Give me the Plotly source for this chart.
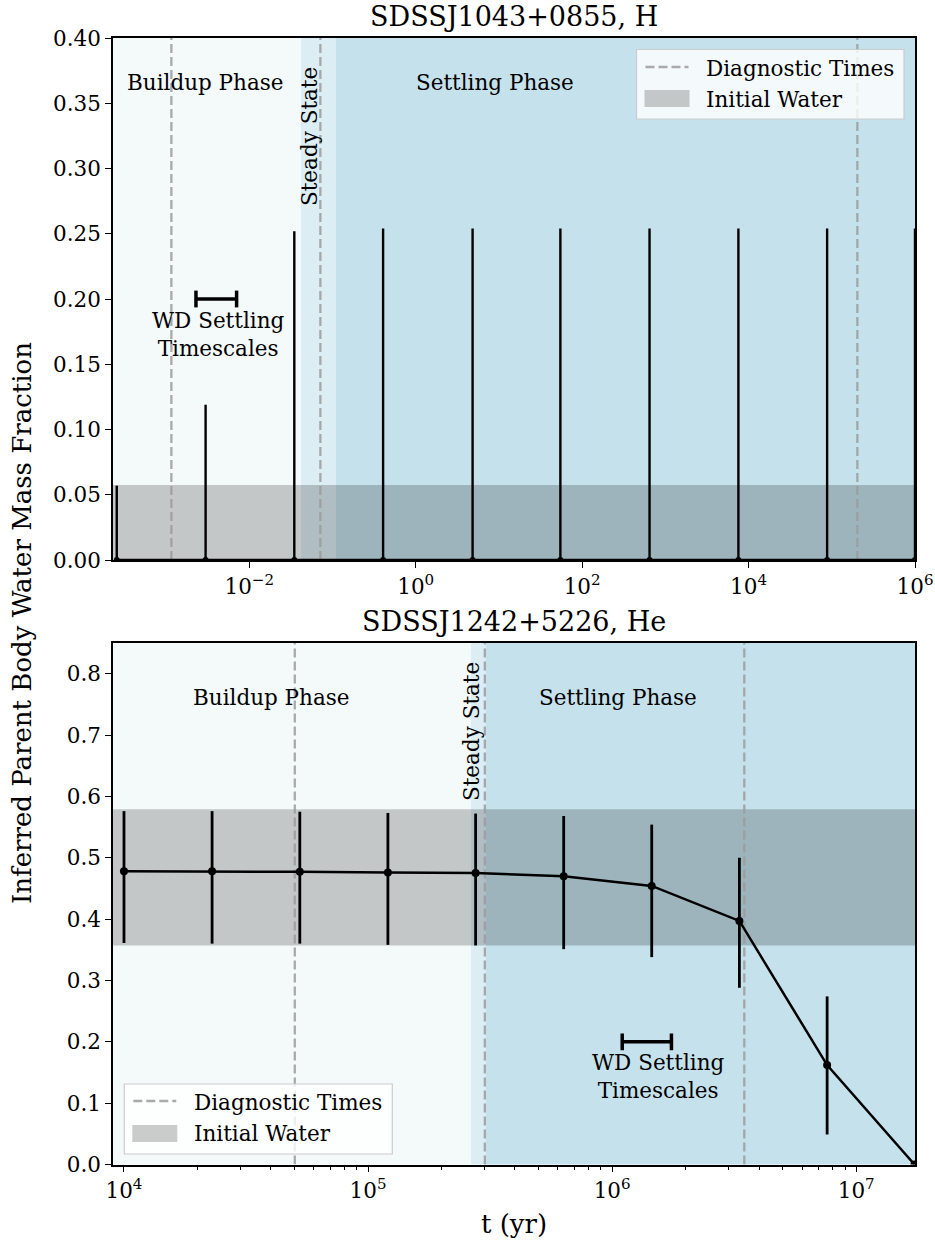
import plotly.graph_objects as go

W, H = 935, 1245
FONT = "DejaVu Serif"

# ---------------- SDSSJ1043+0855 (H atmosphere) ----------------
h_time = [2.56e-4, 2.99e-3, 3.48e-2, 4.06e-1, 4.83, 5.48e1, 6.46e2, 7.55e3, 8.79e4, 1.0e6]
h_frac = [0.0, 0.0, 0.0, 0.0, 0.0, 0.0, 0.0, 0.0, 0.0, 0.0]
h_err_up = [0.057, 0.119, 0.252, 0.254, 0.254, 0.254, 0.254, 0.254, 0.254, 0.254]
h_err_down = [0.0, 0.0, 0.0, 0.0, 0.0, 0.0, 0.0, 0.0, 0.0, 0.0]
h_diag_times = [1.16e-3, 7.16e-2, 2.03e5]
h_initial_water = [0.0, 0.0575]
h_buildup_end = 4.19e-2
h_steady_end = 1.10e-1
h_settling_ts = [2.29e-3, 7.05e-3]
h_settling_ts_y = 0.20
h_xlim_log = [-3.637, 6.0]
h_ylim = [0.0, 0.40]
h_xtick_vals = [1e-2, 1e0, 1e2, 1e4, 1e6]
h_xtick_text = ["10<sup>\u22122</sup>", "10<sup>0</sup>", "10<sup>2</sup>", "10<sup>4</sup>", "10<sup>6</sup>"]
h_ytick_vals = [0.0, 0.05, 0.10, 0.15, 0.20, 0.25, 0.30, 0.35, 0.40]

# ---------------- SDSSJ1242+5226 (He atmosphere) ----------------
he_time = [1.0e4, 2.296e4, 5.253e4, 1.206e5, 2.759e5, 6.333e5, 1.453e6, 3.323e6, 7.603e6, 1.734e7]
he_frac = [0.478, 0.478, 0.477, 0.476, 0.475, 0.470, 0.454, 0.397, 0.162, 0.0]
he_err_up = [0.098, 0.098, 0.098, 0.097, 0.097, 0.098, 0.100, 0.103, 0.112, 0.0]
he_err_down = [0.117, 0.118, 0.117, 0.118, 0.118, 0.119, 0.116, 0.109, 0.113, 0.0]
he_diag_times = [5.01e4, 3.01e5, 3.48e6]
he_initial_water = [0.357, 0.579]
he_buildup_end = 2.64e5
he_steady_end = 3.04e5
he_settling_ts = [1.10e6, 1.75e6]
he_settling_ts_y = 0.20
he_xlim_log = [3.955, 7.241]
he_ylim = [0.0, 0.85]
he_xtick_vals = [1e4, 1e5, 1e6, 1e7]
he_xtick_text = ["10<sup>4</sup>", "10<sup>5</sup>", "10<sup>6</sup>", "10<sup>7</sup>"]
he_ytick_vals = [0.0, 0.1, 0.2, 0.3, 0.4, 0.5, 0.6, 0.7, 0.8]

legend_labels = ["Diagnostic Times", "Initial Water"]

# colours
C_BUILD = "#f4f9fa"
C_STEADY = "#dcedf4"
C_SETTLE = "#c5e2ec"
C_WATER = "rgba(0,0,0,0.2)"
C_DIAG = "rgba(155,155,155,0.85)"
DASH = "9px,4px"

TICK_SIZE = 21.5
TEXT_SIZE = 21.5
TITLE_SIZE = 27
LABEL_SIZE = 26


def px(x):
    return x / W


def py(y):
    return 1 - y / H


fig = go.Figure()


def add_panel(xa, ya, t, frac, eup, edn, diag, water, xlim_log, ylim,
              settle_ts, settle_y, marker_size, bar_width):
    xmin, xmax = 10 ** xlim_log[0], 10 ** xlim_log[1]
    # initial water band
    fig.add_trace(go.Scatter(
        x=[xmin, xmax, xmax, xmin, xmin],
        y=[water[0], water[0], water[1], water[1], water[0]],
        fill="toself", fillcolor=C_WATER, mode="lines", line=dict(width=0),
        showlegend=False, xaxis=xa, yaxis=ya, hoverinfo="skip"))
    # diagnostic times
    for d in diag:
        fig.add_trace(go.Scatter(
            x=[d, d], y=[ylim[0], ylim[1]], mode="lines",
            line=dict(color=C_DIAG, width=2.3, dash=DASH),
            showlegend=False, xaxis=xa, yaxis=ya, hoverinfo="skip"))
    # inferred water fraction
    fig.add_trace(go.Scatter(
        x=t, y=frac, mode="lines+markers",
        line=dict(color="black", width=2.5),
        marker=dict(color="black", size=marker_size),
        error_y=dict(type="data", array=eup, arrayminus=edn, symmetric=False,
                     color="black", thickness=bar_width, width=0),
        showlegend=False, xaxis=xa, yaxis=ya))
    # WD settling timescale bar
    fig.add_trace(go.Scatter(
        x=settle_ts, y=[settle_y, settle_y], mode="lines+markers",
        line=dict(color="black", width=3.5),
        marker=dict(symbol="line-ns", size=12, line=dict(color="black", width=3.5)),
        showlegend=False, xaxis=xa, yaxis=ya, hoverinfo="skip"))


add_panel("x", "y", h_time, h_frac, h_err_up, h_err_down, h_diag_times,
          h_initial_water, h_xlim_log, h_ylim, h_settling_ts, h_settling_ts_y, 6, 2.4)
add_panel("x2", "y2", he_time, he_frac, he_err_up, he_err_down, he_diag_times,
          he_initial_water, he_xlim_log, he_ylim, he_settling_ts, he_settling_ts_y, 8, 2.8)

# phase backgrounds
shapes = []
for xr, yr, xlim_log, b_end, s_end in [
        ("x", "y domain", h_xlim_log, h_buildup_end, h_steady_end),
        ("x2", "y2 domain", he_xlim_log, he_buildup_end, he_steady_end)]:
    xmin, xmax = 10 ** xlim_log[0], 10 ** xlim_log[1]
    for x0, x1, c in [(xmin, b_end, C_BUILD), (b_end, s_end, C_STEADY), (s_end, xmax, C_SETTLE)]:
        shapes.append(dict(type="rect", xref=xr, yref=yr, x0=x0, x1=x1, y0=0, y1=1,
                           fillcolor=c, line=dict(width=0), layer="below"))

annotations = []


def label(text, x, y, size=TEXT_SIZE, angle=0, xanchor="center"):
    annotations.append(dict(text=text, x=px(x), y=py(y), xref="paper", yref="paper",
                            showarrow=False, xanchor=xanchor, yanchor="middle",
                            textangle=angle, font=dict(family=FONT, size=size, color="black")))


def legend_box(x0, y0, x1, y1, line_y, patch_y0, patch_y1, text_x, text_ys):
    # frame
    shapes.append(dict(type="rect", xref="paper", yref="paper",
                       x0=px(x0), x1=px(x1), y0=py(y1), y1=py(y0),
                       fillcolor="rgba(255,255,255,0.8)",
                       line=dict(color="#cccccc", width=1.2), layer="above"))
    # dashed handle
    shapes.append(dict(type="line", xref="paper", yref="paper",
                       x0=px(x0 + 9), x1=px(x0 + 52), y0=py(line_y), y1=py(line_y),
                       line=dict(color=C_DIAG, width=2.3, dash=DASH), layer="above"))
    # patch handle
    shapes.append(dict(type="rect", xref="paper", yref="paper",
                       x0=px(x0 + 8), x1=px(x0 + 53), y0=py(patch_y1), y1=py(patch_y0),
                       fillcolor=C_WATER, line=dict(width=0), layer="above"))
    for txt, ty in zip(legend_labels, text_ys):
        label(txt, text_x, ty, TICK_SIZE, 0, "left")


# top panel texts
label("SDSSJ1043+0855, H", 514, 16, TITLE_SIZE)
label("Buildup Phase", 205, 83)
label("Steady State", 309, 137, TEXT_SIZE, -90)
label("Settling Phase", 495, 83)
label("WD Settling<br>Timescales", 218, 334)
legend_box(636.5, 49.5, 904, 119, 67, 90, 107, 704, [68, 99])

# bottom panel texts
label("SDSSJ1242+5226, He", 514, 621, TITLE_SIZE)
label("Buildup Phase", 271, 697)
label("Steady State", 472, 731, TEXT_SIZE, -90)
label("Settling Phase", 618, 697)
label("WD Settling<br>Timescales", 658, 1076)
legend_box(124.3, 1084, 392.3, 1154, 1101, 1125, 1142, 192, [1102, 1133])

# shared axis titles
label("Inferred Parent Body Water Mass Fraction", 22, 623, LABEL_SIZE, -90)
label("t (yr)", 514, 1224, LABEL_SIZE)

axis_common = dict(showline=True, linecolor="black", linewidth=1.5, mirror=True,
                   ticks="outside", ticklen=6, tickwidth=1.3, tickcolor="black",
                   showgrid=False, zeroline=False, automargin=False,
                   tickfont=dict(family=FONT, size=TICK_SIZE, color="black"))

minor_vals = [m * 10 ** e for e in range(3, 8) for m in range(2, 10)]

fig.update_layout(
    width=W, height=H,
    margin=dict(l=0, r=0, t=0, b=0, autoexpand=False),
    paper_bgcolor="white", plot_bgcolor="white",
    font=dict(family=FONT, color="black"),
    showlegend=False,
    shapes=shapes,
    annotations=annotations,
    xaxis=dict(domain=[px(113), px(915)], anchor="y", type="log", range=h_xlim_log,
               tickmode="array", tickvals=h_xtick_vals, ticktext=h_xtick_text, **axis_common),
    yaxis=dict(domain=[py(560), py(38)], anchor="x", range=h_ylim,
               tickmode="array", tickvals=h_ytick_vals, tickformat=".2f", **axis_common),
    xaxis2=dict(domain=[px(113), px(915)], anchor="y2", type="log", range=he_xlim_log,
                tickmode="array", tickvals=he_xtick_vals, ticktext=he_xtick_text,
                minor=dict(tickmode="array", tickvals=minor_vals, ticks="outside",
                           ticklen=3.5, tickwidth=1, tickcolor="black", showgrid=False),
                **axis_common),
    yaxis2=dict(domain=[py(1164.5), py(643)], anchor="x2", range=he_ylim,
                tickmode="array", tickvals=he_ytick_vals, tickformat=".1f", **axis_common),
)

fig.write_html("out.html")
